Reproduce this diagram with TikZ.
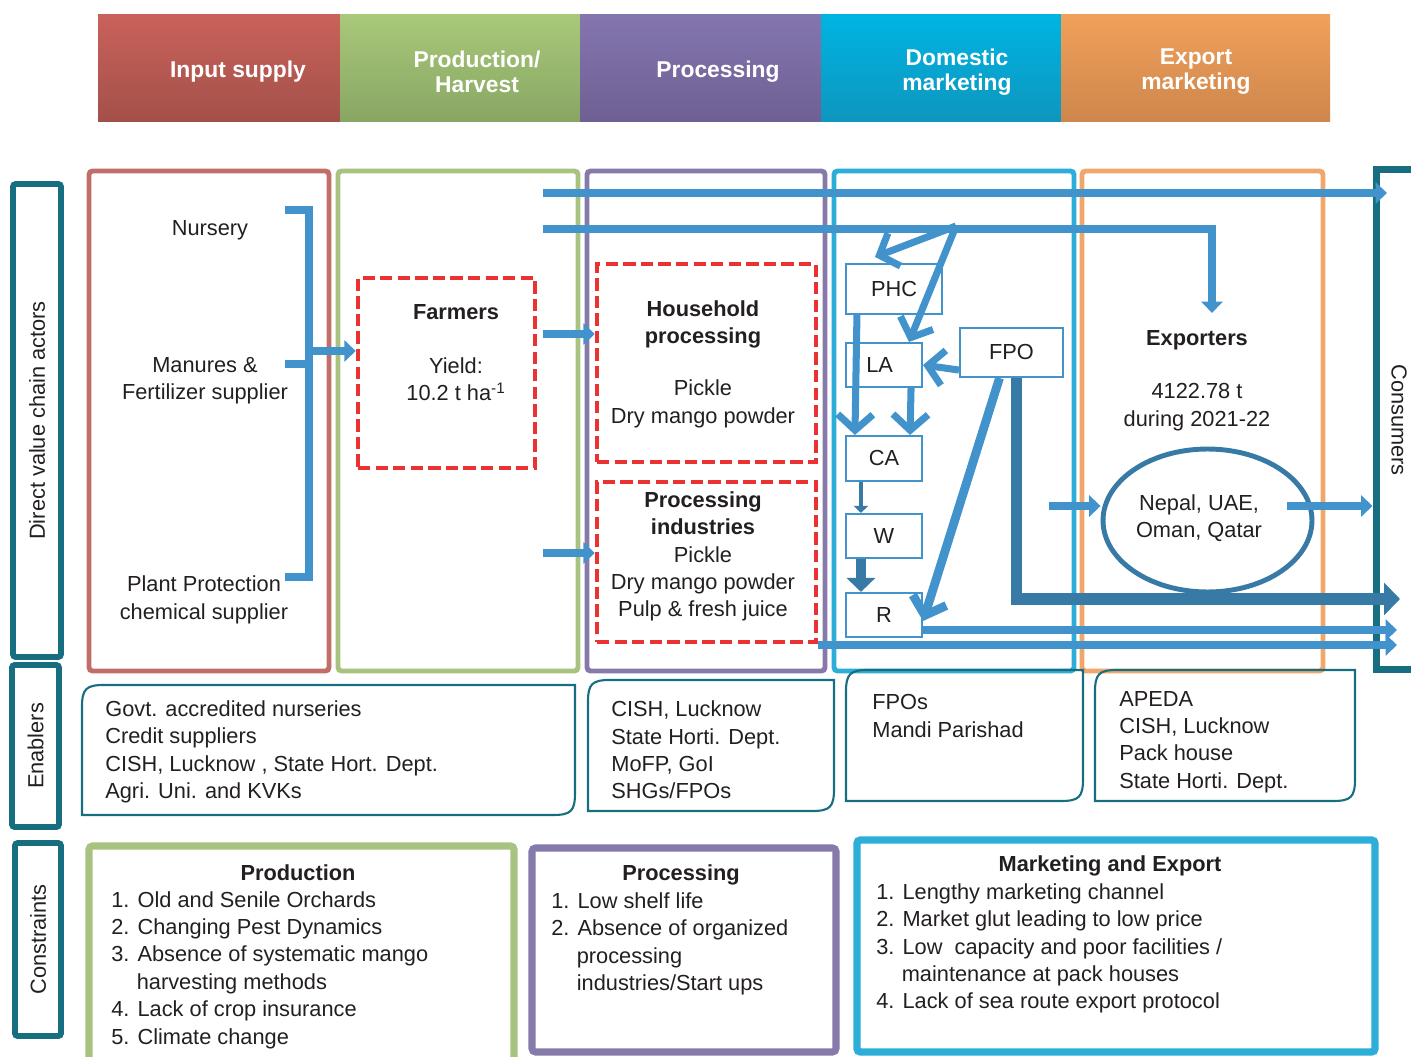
\documentclass[tikz,border=0pt]{standalone}
\usepackage{fontspec}
\setmainfont{Liberation Sans}
\usetikzlibrary{arrows.meta,calc,positioning,shapes.geometric}
\definecolor{redcol}{RGB}{193,110,104}
\definecolor{greencol}{RGB}{168,194,128}
\definecolor{purplecol}{RGB}{134,122,170}
\definecolor{cyancol}{RGB}{44,174,216}
\definecolor{orangecol}{RGB}{241,166,108}
\definecolor{tealcol}{RGB}{22,110,128}
\definecolor{flowblue}{RGB}{66,146,204}
\definecolor{darkflow}{RGB}{55,122,165}
\definecolor{dashred}{RGB}{234,50,50}
\definecolor{inkcol}{RGB}{35,31,32}
\newcommand{\bodyfont}{\fontsize{12.4}{15.6}\selectfont}
% enabler box: top-left and bottom-right corners rounded
\newcommand{\enabbox}[4]{\draw[enab] (#1,#4) -- (#1,#2+22) .. controls (#1,#2+4) and (#1+4,#2) .. (#1+22,#2) -- (#3,#2) -- (#3,#4-22) .. controls (#3,#4-4) and (#3-4,#4) .. (#3-22,#4) -- cycle;}
\tikzset{
  colbox/.style={draw=#1, line width=2.8pt, rounded corners=2pt},
  consbox/.style={draw=#1, line width=4pt},
  sidebox/.style={draw=tealcol, line width=3.3pt, rounded corners=1.5pt, rotate=#1, inner sep=0pt, font=\bodyfont, text=inkcol},
  hdr/.style={font=\fontsize{13}{14.2}\selectfont\bfseries, text=white, align=center},
  txt/.style={font=\bodyfont, text=inkcol, align=center, inner sep=0pt},
  ltxt/.style={font=\bodyfont, text=inkcol, align=left, inner sep=0pt, anchor=west},
  dashbox/.style={draw=dashred, line width=2.6pt, dash pattern=on 7pt off 3pt, inner sep=0pt},
  actor/.style={draw=flowblue, line width=1.2pt, fill=white, font=\bodyfont, text=inkcol, inner sep=0pt},
  enab/.style={draw=tealcol, line width=1.2pt},
  brace/.style={draw=flowblue, line width=4.3pt},
  flow/.style={draw=flowblue, line width=4.2pt, -{Triangle[length=6.5pt,width=12pt]}},
  thinflow/.style={draw=darkflow, line width=2.6pt, -{Triangle[length=4pt,width=8pt]}},
  wflow/.style={draw=darkflow, line width=5.5pt, -{Triangle[length=8pt,width=16pt]}},
  bigflow/.style={draw=darkflow, line width=6.5pt, -{Triangle[length=9pt,width=18pt]}},
  barb/.style={draw=flowblue, line width=4pt, -{Straight Barb[length=9pt,width=20pt]}},
}
\begin{document}
\begin{tikzpicture}[x=0.02cm,y=-0.02cm]
\useasboundingbox (0,0) rectangle (1411,1057);
% stage headers
\shade[top color={rgb,255:red,201;green,98;blue,90}, bottom color={rgb,255:red,163;green,80;blue,74}] (98,15) rectangle (340,122);
\shade[top color={rgb,255:red,168;green,200;blue,122}, bottom color={rgb,255:red,136;green,166;blue,98}] (340,15) rectangle (580,122);
\shade[top color={rgb,255:red,132;green,117;blue,176}, bottom color={rgb,255:red,110;green,96;blue,146}] (580,15) rectangle (821,122);
\shade[top color={rgb,255:red,0;green,180;blue,226}, bottom color={rgb,255:red,14;green,150;blue,190}] (821,15) rectangle (1061,122);
\shade[top color={rgb,255:red,241;green,160;blue,90}, bottom color={rgb,255:red,205;green,134;blue,76}] (1061,15) rectangle (1330,122);
\node[hdr] (hin) at (238,72) {Input supply};
\node[hdr] (hprod) at (477,72) {Production/\\Harvest};
\node[hdr] (hproc) at (718,72) {Processing};
\node[hdr] (hdom) at (957,72) {Domestic\\marketing};
\node[hdr] (hexp) at (1196,72) {Export\\marketing};

% row labels
\node[sidebox=90, minimum width=9.46cm, minimum height=0.96cm] (dvca) at (37,420.5) {Direct value chain actors};
\node[sidebox=90, minimum width=3.24cm, minimum height=0.94cm] (enb) at (35.5,746) {Enablers};
\node[sidebox=90, minimum width=3.86cm, minimum height=0.92cm] (cst) at (38,939.5) {Constraints};

% stage columns
\draw[colbox=redcol] (89,171) rectangle (329,671);
\draw[colbox=greencol] (338,171) rectangle (578,671);
\draw[colbox=purplecol] (587,171) rectangle (825,671);
\draw[colbox=cyancol] (834,171) rectangle (1074,671);
\draw[colbox=orangecol] (1082,171) rectangle (1323,671);
\node[consbox=tealcol, minimum width=0.96cm, minimum height=10.02cm] (cons) at (1400,419.5) {};
\node[txt, rotate=-90] (consl) at (1399,420) {Consumers};

% input suppliers
\node[txt] (nur) at (210,230) {Nursery};
\node[txt] (fert) at (205,381) {Manures \&\\Fertilizer supplier};
\node[txt] (ppc) at (204,600) {Plant Protection\\chemical supplier};
\draw[brace] (285,210) -- (309,210) -- (309,577) -- (285,577);
\draw[brace] (285,364) -- (309,364);

% farmers and processors
\node[dashbox, minimum width=3.54cm, minimum height=3.8cm] (farm) at (446.5,373) {};
\node[txt] (farml) at (456,353) {\textbf{Farmers}\\[15pt]Yield:\\10.2 t ha\textsuperscript{-1}};
\node[dashbox, minimum width=4.38cm, minimum height=3.96cm] (hh) at (706.5,363) {};
\node[txt] (hhl) at (703,364) {\textbf{Household}\\\textbf{processing}\\[14pt]Pickle\\Dry mango powder};
\node[dashbox, minimum width=4.38cm, minimum height=3.2cm] (pi) at (706.5,562) {};
\node[txt] (pil) at (703,556.5) {\textbf{Processing}\\\textbf{industries}\\Pickle\\Dry mango powder\\Pulp \& fresh juice};

% domestic market actors
\node[actor, minimum width=1.92cm, minimum height=1.0cm] (phc) at (894,289) {PHC};
\node[actor, minimum width=1.52cm, minimum height=0.88cm] (la) at (884,365) {LA\hspace*{5pt}};
\node[actor, minimum width=2.06cm, minimum height=0.98cm] (fpo) at (1011.5,352.5) {FPO};
\node[actor, minimum width=1.52cm, minimum height=0.9cm] (ca) at (884,458.5) {CA};
\node[actor, minimum width=1.52cm, minimum height=0.88cm] (w) at (884,536) {W};
\node[actor, minimum width=1.52cm, minimum height=0.88cm] (r) at (884,615) {R};

% exporters
\node[txt] (expo) at (1197,380.5) {\textbf{Exporters}\\[15pt]4122.78 t\\during 2021-22};
\node[ellipse, draw=darkflow, line width=2.8pt, minimum width=4.18cm, minimum height=2.86cm, inner sep=0pt] (ell) at (1207.5,520.5) {};
\node[txt] (ctry) at (1199,518) {Nepal, UAE,\\Oman, Qatar};

% flows
\coordinate (brk) at (309,351);
\coordinate (a1) at (543,334);
\coordinate (a2) at (543,553);
\coordinate (t1) at (543,193);
\coordinate (t1e) at (1387,193);
\coordinate (t2) at (543,229);
\coordinate (t2e) at (1212,313);
\coordinate (sp) at (956,226);
\coordinate (c3) at (1400,599);
\coordinate (c4) at (1397,630);
\coordinate (c5) at (1397,645);
\coordinate (c6) at (1049,506);
\coordinate (c7) at (1287,506);
\draw[flow] (brk) -- (brk -| farm.west);
\draw[flow] (a1) -- (a1 -| hh.west);
\draw[flow] (a2) -- (a2 -| pi.west);
\draw[flow] (t1) -- (t1e);
\draw[flow] (t2) -| (t2e);
\draw[barb] (sp) -- ($(phc.north)+(-19,-6)$);
\draw[barb] (sp) -- ($(la.north)+(25,0)$);
\draw[barb] ($(phc.south west)+(12,0)$) -- ($(ca.north west)+(10,0)$);
\draw[barb] ($(la.south east)+(-12,0)$) -- ($(ca.north east)+(-13,0)$);
\draw[barb] ($(fpo.south west)+(0,-8)$) -- (la.east);
\draw[thinflow] ($(ca.south west)+(16,0)$) -- ($(w.north west)+(16,0)$);
\draw[wflow] ($(w.south west)+(16,0)$) -- ($(r.north west)+(16,0)$);
\draw[barb, line width=5pt] ($(fpo.south)+(-12,0)$) -- ($(r.east)+(0,6)$);
\draw[bigflow] ($(fpo.south)+(5,0)$) |- (c3);
\draw[flow] (r.east |- c4) -- (c4);
\draw[flow] (pi.east |- c5) -- (c5);
\draw[flow] (c6) -- (ell.west |- c6);
\draw[flow] (c7) -- (cons.west |- c7);

% enablers
\enabbox{82}{685}{575}{815}
\enabbox{588}{680}{834}{811}
\enabbox{846}{670}{1083}{801}
\enabbox{1095}{670}{1355}{801}
\node[ltxt] (en1) at (105,752) {Govt. accredited nurseries\\Credit suppliers\\CISH, Lucknow , State Hort. Dept.\\Agri. Uni. and KVKs};
\node[ltxt] (en2) at (611,750) {CISH, Lucknow\\State Horti. Dept.\\MoFP, GoI\\SHGs/FPOs};
\node[ltxt] (en3) at (872,716) {FPOs\\Mandi Parishad};
\node[ltxt] (en4) at (1119,742) {APEDA\\CISH, Lucknow\\Pack house\\State Horti. Dept.};

% constraints
\draw[colbox=greencol, line width=4pt] (89,846) rectangle (514,1080);
\draw[colbox=purplecol, line width=4pt] (532,848) rectangle (836,1052);
\draw[colbox=cyancol, line width=4.2pt] (857,840) rectangle (1375,1052);
\node[txt, font=\bodyfont\bfseries] (pt) at (298,873) {Production};
\node[ltxt] (pl) at (111,970) {1. Old and Senile Orchards\\2. Changing Pest Dynamics\\3. Absence of systematic mango\\\hspace*{14.5pt}harvesting methods\\4. Lack of crop insurance\\5. Climate change};
\node[txt, font=\bodyfont\bfseries] (qt) at (681,875) {Processing};
\node[ltxt] (ql) at (551,944) {1. Low shelf life\\2. Absence of organized\\\hspace*{14.5pt}processing\\\hspace*{14.5pt}industries/Start ups};
\node[txt, font=\bodyfont\bfseries] (mt) at (1110,866) {Marketing and Export};
\node[ltxt] (ml) at (876,948.5) {1. Lengthy marketing channel\\2. Market glut leading to low price\\3. Low\ \ capacity and poor facilities /\\\hspace*{14.5pt}maintenance at pack houses\\4. Lack of sea route export protocol};
\end{tikzpicture}
\end{document}
